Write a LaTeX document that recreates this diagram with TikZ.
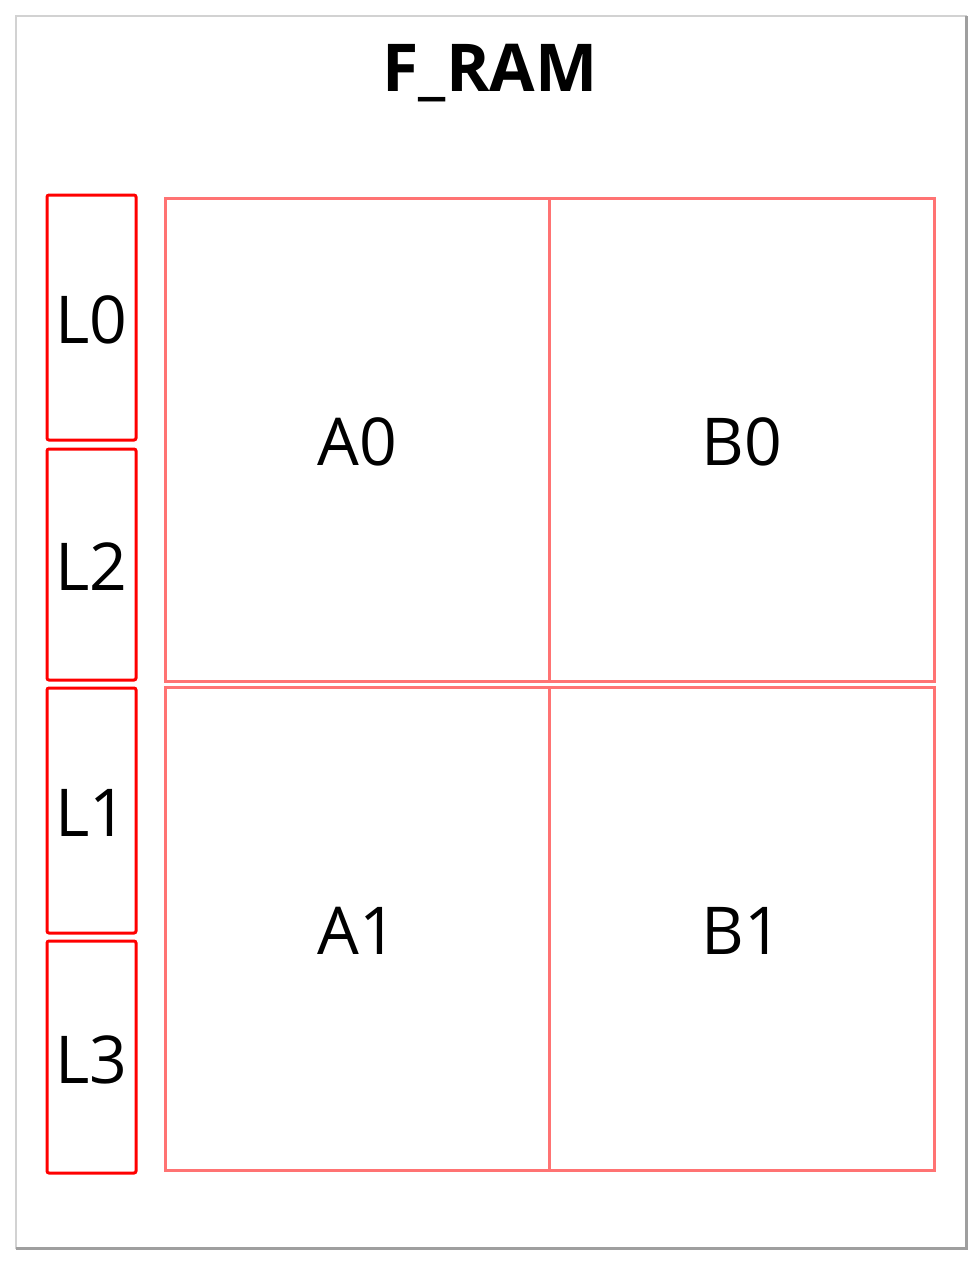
\documentclass[tikz,border=0pt]{standalone}
\usepackage{fontspec}
\setmainfont{Open Sans}
\begin{document}
\begin{tikzpicture}[x=1pt,y=-1pt,
  labeltext/.style={font=\fontsize{66}{70}\selectfont, text height=52pt, text depth=0pt},
  lbox/.style={draw=red, line width=3pt, rounded corners=2pt, inner sep=0pt, labeltext},
  cell/.style={draw=red!55, line width=3pt, inner sep=0pt, labeltext},
  titletext/.style={font=\fontsize{66}{70}\selectfont\bfseries, inner sep=0pt}]
\useasboundingbox (0,0) rectangle (979,1264);
\fill[white] (0,0) rectangle (979,1264);
% outer frame
\draw[gray!35, line width=2pt] (16,16) rectangle (966,1248);
\draw[gray!75, line width=3pt] (966,16) -- (966,1248) -- (16,1248);
\node[titletext] (title) at (490,73) {F\_RAM};
% left boxes
\node[lbox, minimum width=89pt, minimum height=245pt] (l0) at (91.5,317.5) {L0};
\node[lbox, minimum width=89pt, minimum height=231pt] (l2) at (91.5,564.5) {L2};
\node[lbox, minimum width=89pt, minimum height=245pt] (l1) at (91.5,810.5) {L1};
\node[lbox, minimum width=89pt, minimum height=232pt] (l3) at (91.5,1057) {L3};
% cells
\node[cell, minimum width=384pt, minimum height=483pt] (a0) at (357,439.5) {A0};
\node[cell, minimum width=385pt, minimum height=483pt] (b0) at (741.5,439.5) {B0};
\node[cell, minimum width=384pt, minimum height=483pt] (a1) at (357,928.5) {A1};
\node[cell, minimum width=385pt, minimum height=483pt] (b1) at (741.5,928.5) {B1};
\end{tikzpicture}
\end{document}
